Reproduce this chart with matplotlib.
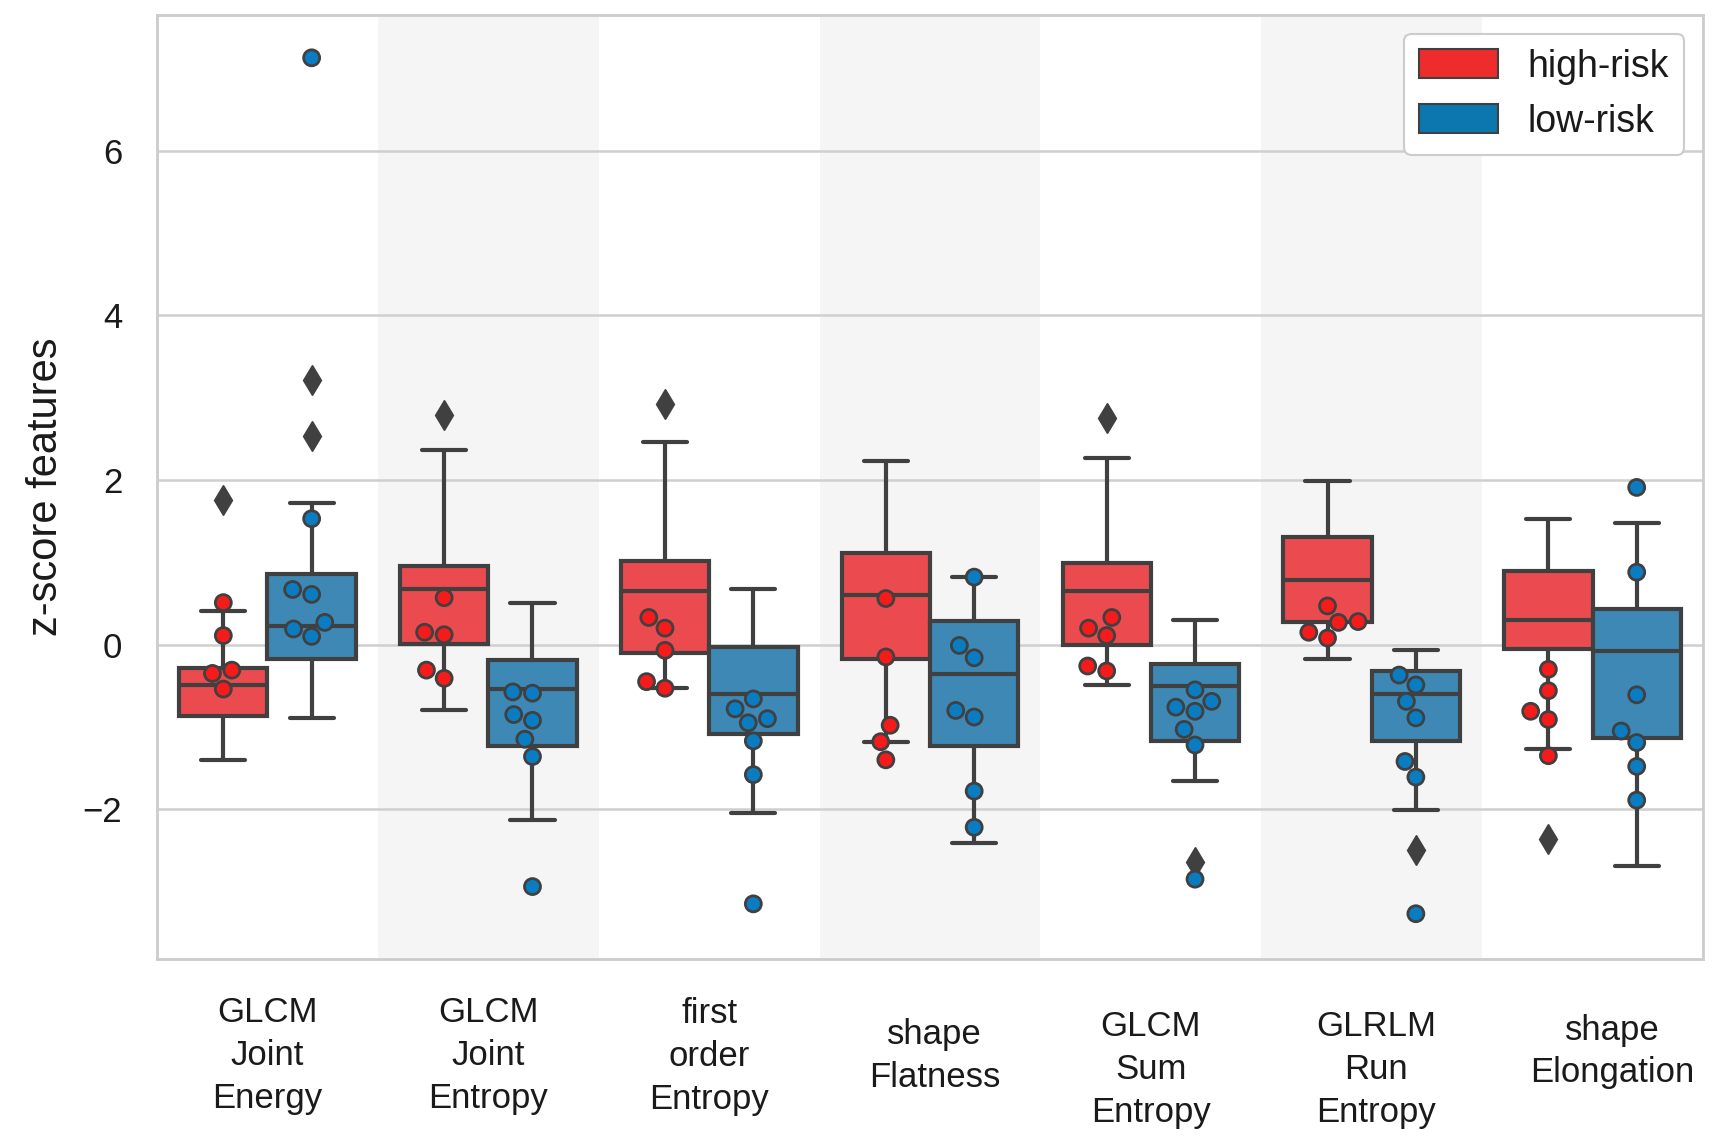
import numpy as np
import pandas as pd
import matplotlib.pyplot as plt
import matplotlib.transforms as mtransforms
import seaborn as sns
from matplotlib.patches import Patch

features = ["GLCM\nJoint\nEnergy", "GLCM\nJoint\nEntropy", "first\norder\nEntropy",
            "shape\nFlatness", "GLCM\nSum\nEntropy", "GLRLM\nRun\nEntropy",
            "shape\nElongation"]
groups = ["high-risk", "low-risk"]

# box statistics
high_q1 = [-0.87, 0.01, -0.10, -0.17, 0.00, 0.27, -0.05]
high_med = [-0.49, 0.67, 0.65, 0.60, 0.65, 0.79, 0.30]
high_q3 = [-0.28, 0.96, 1.02, 1.11, 0.99, 1.31, 0.89]
high_lo = [-1.40, -0.80, -0.53, -1.18, -0.49, -0.17, -1.27]
high_hi = [0.41, 2.36, 2.46, 2.23, 2.27, 1.99, 1.53]
high_fliers = [[1.76], [2.79], [2.92], [], [2.75], [], [-2.36]]

low_q1 = [-0.17, -1.23, -1.09, -1.23, -1.17, -1.17, -1.13]
low_med = [0.23, -0.54, -0.60, -0.36, -0.50, -0.60, -0.08]
low_q3 = [0.86, -0.19, -0.03, 0.29, -0.23, -0.32, 0.43]
low_lo = [-0.89, -2.13, -2.05, -2.41, -1.66, -2.01, -2.69]
low_hi = [1.72, 0.51, 0.68, 0.82, 0.30, -0.07, 1.48]
low_fliers = [[3.22, 2.53], [], [], [], [-2.64], [-2.49], []]

# individual points overlaid on the boxes
high_pts = [
    [0.51, 0.11, -0.31, -0.35, -0.54],
    [0.57, 0.15, 0.12, -0.31, -0.41],
    [0.33, 0.20, -0.07, -0.45, -0.53],
    [0.56, -0.15, -0.98, -1.18, -1.40],
    [0.33, 0.20, 0.11, -0.26, -0.32],
    [0.47, 0.28, 0.27, 0.15, 0.08],
    [-0.30, -0.56, -0.81, -0.91, -1.35],
]
low_pts = [
    [7.13, 1.53, 0.67, 0.61, 0.27, 0.19, 0.10],
    [-0.575, -0.59, -0.85, -0.92, -1.15, -1.36, -2.94],
    [-0.66, -0.78, -0.90, -0.95, -1.17, -1.58, -3.15],
    [0.82, -0.01, -0.16, -0.80, -0.88, -1.78, -2.22],
    [-0.55, -0.69, -0.76, -0.81, -1.03, -1.22, -2.85],
    [-0.37, -0.49, -0.69, -0.89, -1.42, -1.61, -3.27],
    [1.91, 0.88, -0.61, -1.05, -1.19, -1.48, -1.89],
]

box_colors = {"high-risk": "#EB4B4F", "low-risk": "#3D88B5"}
pt_colors = {"high-risk": "#F51B1B", "low-risk": "#0A7CC2"}
leg_colors = {"high-risk": "#EE2C2C", "low-risk": "#0B77AE"}
line = "#404040"
txt = "#1a1a1a"
lw = 3.0


def box_stats(q1, med, q3, lo, hi, fl):
    return [dict(q1=a, med=b, q3=c, whislo=d, whishi=e, fliers=f)
            for a, b, c, d, e, f in zip(q1, med, q3, lo, hi, fl)]


sns.set_style("whitegrid")
plt.rcParams['font.family'] = ['Liberation Sans', 'DejaVu Sans']

fig = plt.figure(figsize=(17.24, 11.38), dpi=100)
ax = fig.add_axes([0.0911, 0.1573, 0.8967, 0.8295])

# alternate shaded bands
for i in range(1, len(features), 2):
    ax.axvspan(i - 0.5, i + 0.5, color="#f5f5f5", zorder=0, lw=0)

stats = {
    "high-risk": box_stats(high_q1, high_med, high_q3, high_lo, high_hi, high_fliers),
    "low-risk": box_stats(low_q1, low_med, low_q3, low_lo, low_hi, low_fliers),
}
for g, off in zip(groups, [-0.2, 0.2]):
    ax.bxp(stats[g], positions=np.arange(len(features)) + off, widths=0.4,
           capwidths=0.2, patch_artist=True, manage_ticks=False, zorder=2,
           boxprops=dict(facecolor=box_colors[g], edgecolor=line, linewidth=lw),
           whiskerprops=dict(color=line, linewidth=lw),
           capprops=dict(color=line, linewidth=lw),
           medianprops=dict(color=line, linewidth=lw),
           flierprops=dict(marker='d', markerfacecolor=line, markeredgecolor=line,
                           markersize=15))

rows = []
for g, pts in zip(groups, [high_pts, low_pts]):
    for f, vals in zip(features, pts):
        for v in vals:
            rows.append((f, g, v))
df = pd.DataFrame(rows, columns=["feature", "group", "value"])

sns.swarmplot(data=df, x="feature", y="value", hue="group", order=features,
              hue_order=groups, dodge=True, palette=pt_colors, size=11.5,
              edgecolor=line, linewidth=2.0, ax=ax, legend=False, zorder=3)

ax.set_xlim(-0.5, 6.5)
ax.set_ylim(-3.82, 7.65)
ax.set_xlabel("")
ax.set_xticks(range(len(features)))
ax.set_xticklabels([])
ax.xaxis.grid(False)
ax.yaxis.grid(True, color="#cfcfcf", linewidth=1.8)
ax.set_axisbelow(True)
ax.set_yticks([-2, 0, 2, 4, 6])
ax.tick_params(axis='y', labelsize=25, pad=25, length=0, labelcolor=txt)
ax.tick_params(axis='x', length=0)
for sp in ax.spines.values():
    sp.set_color("#cccccc")
    sp.set_linewidth(2)
ax.set_ylabel("z-score features", fontsize=30, labelpad=12, color=txt)

# category labels placed by hand, as in the original figure
label_y = [-0.102, -0.102, -0.103, -0.103, -0.117, -0.117, -0.098]
label_dx = [0, 0, 0, 0.02, 0, 0.02, 0.09]
trans = mtransforms.blended_transform_factory(ax.transData, ax.transAxes)
for i, name in enumerate(features):
    ax.text(i + label_dx[i], label_y[i], name, transform=trans, ha='center',
            va='center', fontsize=25, linespacing=1.38, multialignment='center',
            color=txt)

handles = [Patch(facecolor=leg_colors[g], edgecolor=line, linewidth=1.5, label=g)
           for g in groups]
leg = ax.legend(handles=handles, loc='upper right', fontsize=27, handlelength=2.1,
                handleheight=0.8, labelspacing=0.5, borderpad=0.4, frameon=True,
                framealpha=1, fancybox=True, labelcolor=txt)
leg.get_frame().set_edgecolor("#cccccc")
leg.get_frame().set_linewidth(1.5)

fig.savefig("out.png", dpi=100)
